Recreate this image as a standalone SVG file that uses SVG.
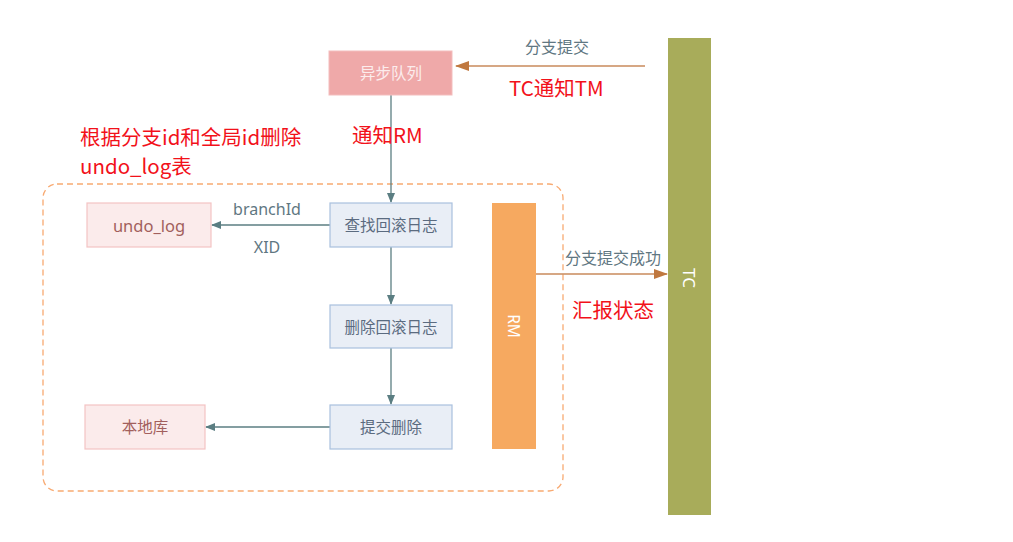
<svg xmlns="http://www.w3.org/2000/svg" width="1013" height="542" viewBox="0 0 1013 542">
<style>
text{font-family:"Noto Sans","Noto Sans CJK SC",sans-serif;}
.lbl{font-size:15.5px;text-anchor:middle;dominant-baseline:central;}
.blue rect{fill:#E9EEF6;stroke:#A9C0DE;stroke-width:1.2;}
.blue text{fill:#5B6B80;}
.pink rect{fill:#FBEBEB;stroke:#F3C3C3;stroke-width:1.2;}
.pink text{fill:#A25F5C;}
.red{fill:#F2111A;font-size:20.5px;font-family:"Noto Sans CJK SC",sans-serif;}
.grey{fill:#5F7782;font-size:16px;text-anchor:middle;}
.teal{stroke:#5B7E82;stroke-width:1.3;fill:none;}
.brown{stroke:#C98A5B;stroke-width:1.5;fill:none;}
</style>
<defs>
<marker id="ah" markerWidth="10" markerHeight="8" refX="9" refY="4" orient="auto" markerUnits="userSpaceOnUse">
<path d="M0,0 L10,4 L0,8 z" fill="#5B7E82"/>
</marker>
<marker id="ahb" markerWidth="14" markerHeight="10" refX="13" refY="5" orient="auto" markerUnits="userSpaceOnUse">
<path d="M0,0 L14,5 L0,10 z" fill="#C0783F"/>
</marker>
</defs>
<rect width="1013" height="542" fill="#fff"/>
<g id="container">
<rect x="43" y="184" width="520" height="307" rx="14" fill="none" stroke="#F8AA72" stroke-width="1.3" stroke-dasharray="6,4"/>
</g>
<g id="connectors">
<line class="brown" x1="645" y1="66" x2="456" y2="66" marker-end="url(#ahb)"/>
<line class="teal" x1="391" y1="95" x2="391" y2="202" marker-end="url(#ah)"/>
<line class="teal" x1="330" y1="225" x2="212" y2="225" marker-end="url(#ah)"/>
<line class="teal" x1="391" y1="247" x2="391" y2="304" marker-end="url(#ah)"/>
<line class="teal" x1="391" y1="348" x2="391" y2="404" marker-end="url(#ah)"/>
<line class="teal" x1="330" y1="427" x2="206" y2="427" marker-end="url(#ah)"/>
<line class="brown" x1="536" y1="274" x2="667" y2="274" marker-end="url(#ahb)"/>
<text class="grey" x="557" y="53">分支提交</text>
<text class="grey" x="267" y="215">branchId</text>
<text class="grey" x="267" y="253">XID</text>
<text class="grey" x="613" y="264">分支提交成功</text>
</g>
<g id="async-queue">
<rect x="329" y="51" width="123" height="44" fill="#EFA9A9" stroke="#F3BDBD" stroke-width="1"/>
<text class="lbl" x="391" y="73" fill="#FCEDED">异步队列</text>
</g>
<g id="tc">
<rect x="668" y="38" width="43" height="477" fill="#A8AC5A"/>
<text class="lbl" x="0" y="0" fill="#FFFFFF" style="font-size:17px" transform="translate(689,278) rotate(90)">TC</text>
</g>
<g id="find-log" class="blue">
<rect x="330" y="203" width="122" height="44"/>
<text class="lbl" x="391" y="225">查找回滚日志</text>
</g>
<g id="delete-log" class="blue">
<rect x="330" y="305" width="122" height="43"/>
<text class="lbl" x="391" y="327">删除回滚日志</text>
</g>
<g id="commit-delete" class="blue">
<rect x="330" y="405" width="122" height="44"/>
<text class="lbl" x="391" y="427">提交删除</text>
</g>
<g id="undo-log" class="pink">
<rect x="87" y="203" width="124" height="44"/>
<text class="lbl" x="149" y="225" style="font-size:16.5px">undo_log</text>
</g>
<g id="local-db" class="pink">
<rect x="85" y="405" width="120" height="44"/>
<text class="lbl" x="145" y="427">本地库</text>
</g>
<g id="rm">
<rect x="492" y="203" width="44" height="246" fill="#F6A960"/>
<text class="lbl" x="0" y="0" fill="#FFFFFF" transform="translate(514,326) rotate(90)">RM</text>
</g>
<g id="annotations">
<text class="red" x="509" y="96">TC通知TM</text>
<text class="red" x="352" y="143">通知RM</text>
<text class="red" x="80" y="145">根据分支id和全局id删除</text>
<text class="red" x="80" y="174">undo_log表</text>
<text class="red" x="572" y="318">汇报状态</text>
</g>
</svg>
